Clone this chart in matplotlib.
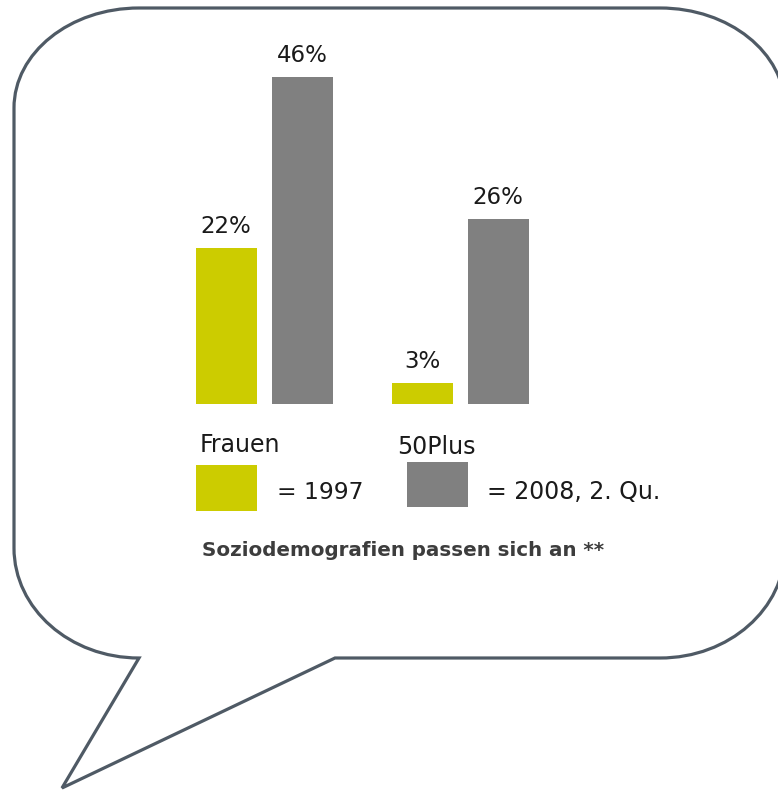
import matplotlib
matplotlib.use("Agg")
import matplotlib.pyplot as plt
from matplotlib.path import Path
from matplotlib.patches import PathPatch, Rectangle
import numpy as np

# ---- data ----
categories = ["Frauen", "50Plus"]
values_1997 = [22, 3]
values_2008 = [46, 26]
value_labels_1997 = ["22%", "3%"]
value_labels_2008 = ["46%", "26%"]
legend_1997 = "= 1997"
legend_2008 = "= 2008, 2. Qu."
caption = "Soziodemografien passen sich an **"

YELLOW = "#CCCC00"
GRAY = "#808080"
OUTLINE = "#4F5A65"
TEXT = "#1a1a1a"
CAPTION = "#3d3d3d"

W, H = 778, 791
fig = plt.figure(figsize=(W / 100, H / 100), dpi=100)
plt.rcParams['font.family'] = ['DejaVu Sans']

# ---- background axes in pixel coordinates (speech bubble + legend) ----
bg = fig.add_axes([0, 0, 1, 1])
bg.set_xlim(0, W)
bg.set_ylim(H, 0)
bg.axis("off")

L, R, T, B = 14, 785, 8, 658
rx, ry = 125, 100
rxb, ryb = 125, 110
k = 0.5523
tail_a, tail_tip, tail_b = (139, B), (62, 788), (335, B)
verts = [
    (L + rx, T), (R - rx, T),
    (R - rx + rx * k, T), (R, T + ry - ry * k), (R, T + ry),
    (R, B - ryb),
    (R, B - ryb + ryb * k), (R - rxb + rxb * k, B), (R - rxb, B),
    tail_b, tail_tip, tail_a,
    (L + rxb - rxb * k, B), (L, B - ryb + ryb * k), (L, B - ryb),
    (L, T + ry),
    (L, T + ry - ry * k), (L + rx - rx * k, T), (L + rx, T),
    (L + rx, T),
]
codes = [Path.MOVETO, Path.LINETO,
         Path.CURVE4, Path.CURVE4, Path.CURVE4,
         Path.LINETO,
         Path.CURVE4, Path.CURVE4, Path.CURVE4,
         Path.LINETO, Path.LINETO, Path.LINETO,
         Path.CURVE4, Path.CURVE4, Path.CURVE4,
         Path.LINETO,
         Path.CURVE4, Path.CURVE4, Path.CURVE4,
         Path.CLOSEPOLY]
bg.add_patch(PathPatch(Path(verts, codes), facecolor="white",
                       edgecolor=OUTLINE, lw=2.3, joinstyle="miter"))

# legend keys
bg.add_patch(Rectangle((196, 465), 61, 46, facecolor=YELLOW, edgecolor="none"))
bg.add_patch(Rectangle((407, 462), 61, 45, facecolor=GRAY, edgecolor="none"))
bg.text(277, 499, legend_1997, fontsize=16.8, color=TEXT, ha="left", va="baseline")
bg.text(487, 499, legend_2008, fontsize=17, color=TEXT, ha="left", va="baseline")
bg.text(202, 556, caption, fontsize=14.3, fontweight="bold", color=CAPTION,
        ha="left", va="baseline")

# ---- bar axes ----
base_px = 404
px_per_unit = 7.1
ymax = 50
ax_h = ymax * px_per_unit
ax = fig.add_axes([68 / W, (H - base_px) / H, 588 / W, ax_h / H])
ax.set_xlim(-1, 2)
ax.set_ylim(0, ymax)
ax.axis("off")

x = np.arange(len(categories))
off = 38 / 196
bw = 61 / 196
b1 = ax.bar(x - off, values_1997, width=bw, color=YELLOW)
b2 = ax.bar(x + off, values_2008, width=bw, color=GRAY)

for bars, labels in ((b1, value_labels_1997), (b2, value_labels_2008)):
    for rect, lab in zip(bars, labels):
        ax.annotate(lab, xy=(rect.get_x() + rect.get_width() / 2, rect.get_height()),
                    xytext=(0, 10.8), textcoords="offset points",
                    ha="center", va="baseline", fontsize=16.5, color=TEXT)

cat_dy = [48, 50]
cat_dx = [4, 6]
for i, cat in enumerate(categories):
    ax.annotate(cat, xy=(x[i] - off - bw / 2, 0),
                xytext=(cat_dx[i] * 0.72, -cat_dy[i] * 0.72), textcoords="offset points",
                ha="left", va="baseline", fontsize=17, color=TEXT)

fig.savefig("out.png", dpi=100)
